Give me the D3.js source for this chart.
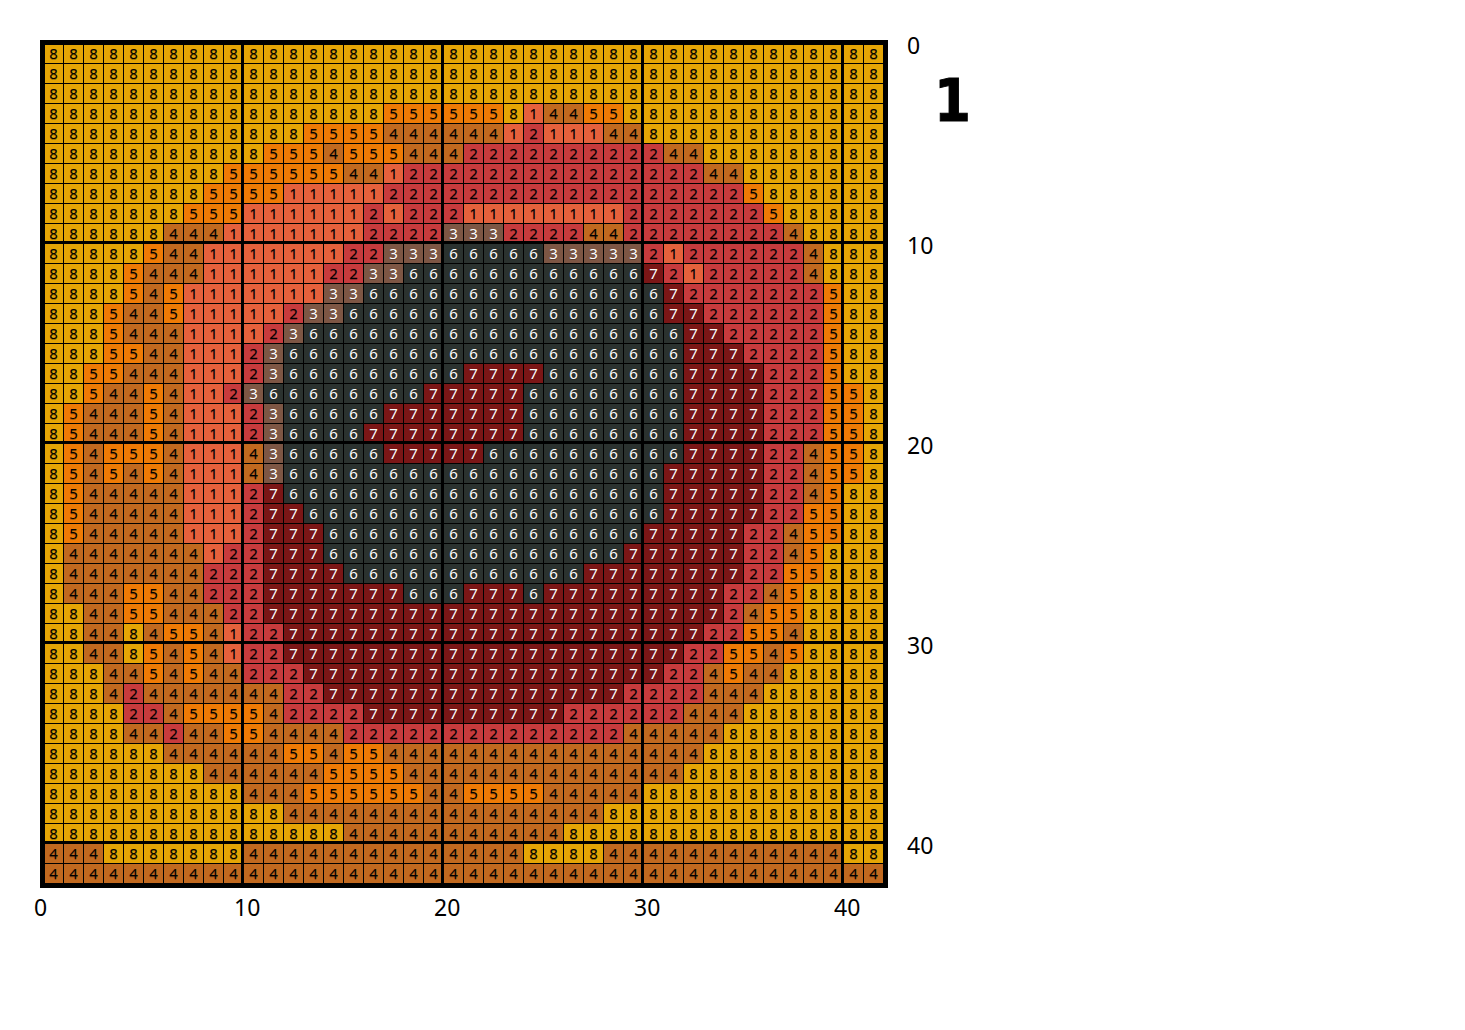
<!DOCTYPE html>
<html>
<head>
<meta charset="utf-8">
<script src="https://cdn.jsdelivr.net/npm/d3@7"></script>
<style>
html,body{margin:0;padding:0;background:#fff;overflow:hidden}
svg{display:block}
.cell-text{font-family:"Noto Sans";font-size:15px;text-anchor:middle;text-shadow:0 1px 0 rgba(0,0,0,0.3)}
.tick text{font-family:"Noto Sans";font-size:23px;fill:#000}
</style>
</head>
<body>
<svg id="c" width="1465" height="1030"></svg>
<script>
const rowStrings = [
"8888888888 8888888888 8888888888 8888888888 88",
"8888888888 8888888888 8888888888 8888888888 88",
"8888888888 8888888888 8888888888 8888888888 88",
"8888888888 8888888555 5558144558 8888888888 88",
"8888888888 8885555444 4441211144 8888888888 88",
"8888888888 8555455544 4222222222 2448888888 88",
"8888888885 5555544122 2222222222 2224488888 88",
"8888888855 5511111222 2222222222 2222258888 88",
"8888888555 1111112122 2111111112 2222225888 88",
"8888884441 1111112222 3332222442 2222222488 88",
"8888854411 1111122333 6666633333 2122222248 88",
"8888544411 1111223366 6666666666 7212222248 88",
"8888545111 1111336666 6666666666 6722222225 88",
"8885445111 1123366666 6666666666 6772222225 88",
"8885444111 1236666666 6666666666 6677222225 88",
"8885544111 2366666666 6666666666 6677722225 88",
"8855444111 2366666666 6777766666 6677772225 88",
"8854454112 3666666667 7777666666 6677772225 58",
"8544454111 2366666777 7777666666 6677772225 58",
"8544454111 2366667777 7777666666 6677772225 58",
"8545554111 4366666777 7766666666 6677772245 58",
"8545454111 4366666666 6666666666 6777772245 58",
"8544444111 2766666666 6666666666 6777772245 88",
"8544444111 2776666666 6666666666 6777772255 88",
"8544444111 2777666666 6666666666 7777722455 88",
"8444444412 2777666666 6666666667 7777722458 88",
"8444444422 2777766666 6666666777 7777722558 88",
"8444554422 2777777766 6777677777 7777224588 88",
"8844554442 2777777777 7777777777 7777245588 88",
"8844845541 2277777777 7777777777 7772255488 88",
"8844854541 2277777777 7777777777 7722554588 88",
"8884454544 2227777777 7777777777 7224544888 88",
"8884244444 4422777777 7777777772 2224448888 88",
"8888224555 5422227777 7777772222 2244488888 88",
"8888442445 5444422222 2222222224 4444888888 88",
"8888884444 4455455444 4444444444 4448888888 88",
"8888888844 4444555544 4444444444 4488888888 88",
"8888888888 4445555554 4555544444 8888888888 88",
"8888888888 8844444444 4444444488 8888888888 88",
"8888888888 8888844444 4444448888 8888888888 88",
"4448888888 4444444444 4444888844 4444444444 88",
"4444444444 4444444444 4444444444 4444444444 44"
];
const categories = [1,2,3,4,5,6,7,8];
const categoryColors = ["#E5613C","#C73B3D","#7D5644","#C1691F","#EE7A05","#2B322F","#7B1616","#E5A505"];
const lightTextCategories = [3,6,7];
const tickLabels = [0,10,20,30,40];
const titleText = "1";

const cells = [];
rowStrings.forEach((s,r)=>{
  s.replace(/ /g,"").split("").forEach((ch,c)=>cells.push({r,c,v:+ch}));
});
const N = 42;
const x = d3.scaleLinear().domain([0,N]).range([43,883]);
const y = d3.scaleLinear().domain([0,N]).range([43,883]);
const color = d3.scaleOrdinal().domain(categories).range(categoryColors);
const svg = d3.select("#c");

svg.append("g").selectAll("rect").data(cells).join("rect")
  .attr("x",d=>x(d.c)).attr("y",d=>y(d.r))
  .attr("width",x(1)-x(0)).attr("height",y(1)-y(0))
  .attr("fill",d=>color(d.v));

const gridIdx = d3.range(1,N);
const grid = svg.append("g").attr("stroke","#000").attr("shape-rendering","crispEdges");
grid.selectAll(".v").data(gridIdx).join("line").attr("class","v")
  .attr("x1",d=>x(d)+0.5).attr("x2",d=>x(d)+0.5).attr("y1",y(0)).attr("y2",y(N)).attr("stroke-width",1);
grid.selectAll(".h").data(gridIdx).join("line").attr("class","h")
  .attr("y1",d=>y(d)+0.5).attr("y2",d=>y(d)+0.5).attr("x1",x(0)).attr("x2",x(N)).attr("stroke-width",1);

svg.append("g").selectAll("text").data(cells).join("text")
  .attr("class","cell-text")
  .attr("x",d=>x(d.c)+10.5).attr("y",d=>y(d.r)+15.5)
  .attr("fill",d=>lightTextCategories.includes(d.v)?"#fff":"#000")
  .text(d=>d.v);

const major = tickLabels.filter(t=>t>0);
const thick = svg.append("g").attr("fill","#000");
thick.selectAll(".v").data(major).join("rect").attr("class","v")
  .attr("x",d=>x(d)-2).attr("width",3).attr("y",y(0)).attr("height",y(N)-y(0));
thick.selectAll(".h").data(major).join("rect").attr("class","h")
  .attr("y",d=>y(d)-2).attr("height",3).attr("x",x(0)).attr("width",x(N)-x(0));

const frame = svg.append("g").attr("fill","#000");
frame.append("rect").attr("x",x(0)-3).attr("y",y(0)-3).attr("width",5).attr("height",y(N)-y(0)+8);
frame.append("rect").attr("x",x(N)).attr("y",y(0)-3).attr("width",5).attr("height",y(N)-y(0)+8);
frame.append("rect").attr("x",x(0)-3).attr("y",y(0)-3).attr("width",x(N)-x(0)+8).attr("height",5);
frame.append("rect").attr("x",x(0)-3).attr("y",y(N)).attr("width",x(N)-x(0)+8).attr("height",5);

const xAxis = d3.axisBottom(x).tickValues(tickLabels).tickSize(0).tickFormat(d3.format("d"));
const gx = svg.append("g").call(xAxis);
gx.select(".domain").remove();
gx.selectAll(".tick text").attr("text-anchor","start").attr("x",-9.5).attr("y",916).attr("dy",0);

const yAxis = d3.axisRight(y).tickValues(tickLabels).tickSize(0).tickFormat(d3.format("d"));
const gy = svg.append("g").attr("transform","translate(907,0)").call(yAxis);
gy.select(".domain").remove();
gy.selectAll(".tick text").attr("text-anchor","start").attr("x",0).attr("y",10).attr("dy",0);

svg.append("text").attr("transform","translate(934,121) scale(0.9,1)")
  .attr("font-family","DejaVu Sans").attr("font-weight","bold").attr("font-size",59)
  .attr("stroke","#000").attr("stroke-width",1)
  .attr("fill","#000").text(titleText);
</script>
</body>
</html>
